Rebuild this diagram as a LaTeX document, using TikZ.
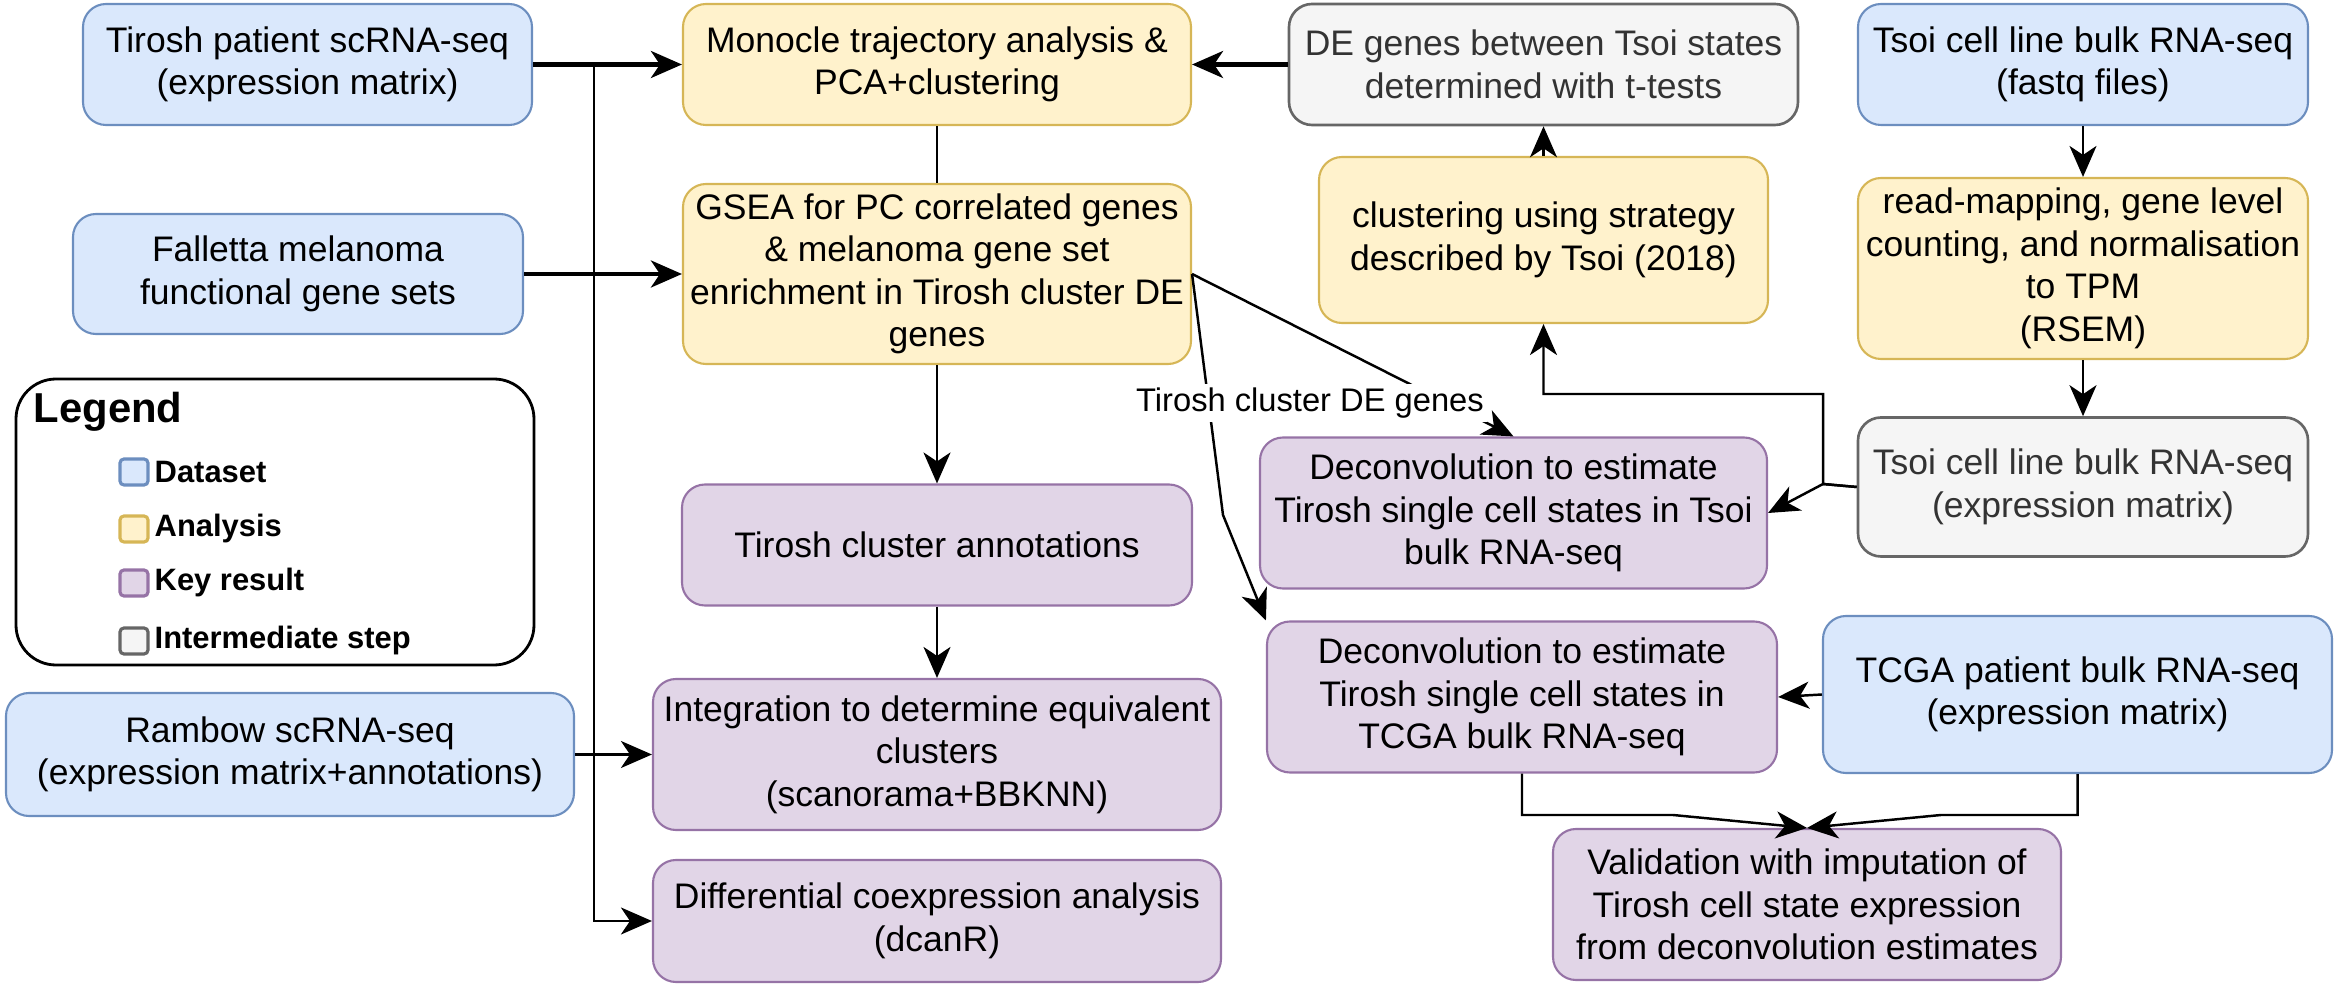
\documentclass[tikz,border=0pt]{standalone}
\usepackage{fontspec}
\setmainfont{Liberation Sans}
\usetikzlibrary{positioning,arrows.meta}

\definecolor{datafill}{HTML}{DAE8FC}
\definecolor{datadraw}{HTML}{6C8EBF}
\definecolor{anafill}{HTML}{FFF2CC}
\definecolor{anadraw}{HTML}{D6B656}
\definecolor{keyfill}{HTML}{E1D5E7}
\definecolor{keydraw}{HTML}{9673A6}
\definecolor{intfill}{HTML}{F5F5F5}
\definecolor{intdraw}{HTML}{666666}
\definecolor{inttext}{HTML}{333333}

\begin{document}
\begin{tikzpicture}[on grid,node distance=2cm,
	box/.style={draw,rounded corners=0.23cm,line width=0.6pt,align=center,inner sep=0pt,
		font=\fontsize{10.1}{12.1}\selectfont},
	dataset/.style={box,fill=datafill,draw=datadraw},
	analysis/.style={box,fill=anafill,draw=anadraw},
	keyres/.style={box,fill=keyfill,draw=keydraw},
	interm/.style={box,fill=intfill,draw=intdraw,text=inttext,line width=0.75pt},
	arr/.style={-{Stealth[length=0.31cm,width=0.27cm,inset=0.09cm]},line width=0.7pt},
	bold arr/.style={arr,line width=1.15pt},
	lbl/.style={fill=white,inner sep=1pt,font=\fontsize{9.3}{11}\selectfont},
	swatch/.style={draw,rounded corners=0.04cm,line width=0.9pt,minimum width=0.28cm,
		minimum height=0.26cm,inner sep=0pt},
	legitem/.style={anchor=west,inner sep=0pt,font=\bfseries\fontsize{8.8}{10}\selectfont}]
	\useasboundingbox (0,0) rectangle (23.38,-9.91);

	\node[dataset,minimum width=4.49cm,minimum height=1.21cm] (tirosh) at (3.075,-0.645)
		{Tirosh patient scRNA-seq\\(expression matrix)};
	\node[analysis,minimum width=5.08cm,minimum height=1.21cm] (monocle) [right=6.295cm of tirosh]
		{Monocle trajectory analysis \&\\PCA+clustering};
	\node[interm,minimum width=5.09cm,minimum height=1.21cm] (degenes) [right=6.065cm of monocle]
		{DE genes between Tsoi states\\determined with t-tests};
	\node[dataset,minimum width=4.50cm,minimum height=1.21cm] (fastq) [right=5.395cm of degenes]
		{Tsoi cell line bulk RNA-seq\\(fastq files)};
	\node[analysis,minimum width=4.50cm,minimum height=1.81cm] (readmap) [below=2.04cm of fastq]
		{read-mapping, gene level\\counting, and normalisation\\to TPM\\(RSEM)};
	\node[interm,minimum width=4.50cm,minimum height=1.39cm] (tsoiexpr) [below=2.185cm of readmap]
		{Tsoi cell line bulk RNA-seq\\(expression matrix)};
	\node[dataset,minimum width=5.09cm,minimum height=1.57cm] (tcga) [below left=2.075cm and 0.055cm of tsoiexpr]
		{TCGA patient bulk RNA-seq\\(expression matrix)};

	\node[analysis,minimum width=5.08cm,minimum height=1.80cm] (gsea) [below=2.095cm of monocle]
		{GSEA for PC correlated genes\\\& melanoma gene set\\enrichment in Tirosh cluster DE\\genes};
	\node[keyres,minimum width=5.10cm,minimum height=1.21cm] (annot) [below=2.71cm of gsea]
		{Tirosh cluster annotations};
	\node[keyres,minimum width=5.68cm,minimum height=1.51cm] (integ) [below=2.095cm of annot]
		{Integration to determine equivalent\\clusters\\(scanorama+BBKNN)};
	\node[keyres,minimum width=5.68cm,minimum height=1.22cm] (diffco) [below=1.665cm of integ]
		{Differential coexpression analysis\\(dcanR)};
	\node[dataset,minimum width=4.50cm,minimum height=1.20cm] (falletta) [left=6.39cm of gsea]
		{Falletta melanoma\\functional gene sets};
	\node[dataset,minimum width=5.68cm,minimum height=1.23cm] (rambow) [left=6.47cm of integ]
		{Rambow scRNA-seq\\(expression matrix+annotations)};

	\node[analysis,minimum width=4.49cm,minimum height=1.66cm] (clust) [below=1.755cm of degenes]
		{clustering using strategy\\described by Tsoi (2018)};
	\node[keyres,minimum width=5.07cm,minimum height=1.51cm] (deconvtsoi) at (15.135,-5.13)
		{Deconvolution to estimate\\Tirosh single cell states in Tsoi\\bulk RNA-seq};
	\node[keyres,minimum width=5.10cm,minimum height=1.51cm] (deconvtcga) [below right=1.84cm and 0.085cm of deconvtsoi]
		{Deconvolution to estimate\\Tirosh single cell states in\\TCGA bulk RNA-seq};
	\node[keyres,minimum width=5.08cm,minimum height=1.51cm] (valid) at (18.07,-9.045)
		{Validation with imputation of\\Tirosh cell state expression\\from deconvolution estimates};

	\node[draw,line width=0.8pt,rounded corners=0.4cm,minimum width=5.18cm,minimum height=2.86cm] (legend) at (2.75,-5.22) {};
	\node[anchor=west,inner sep=0pt,font=\bfseries\fontsize{11.9}{14}\selectfont] (legtitle) at (0.33,-4.12) {Legend};
	\node[swatch,fill=datafill,draw=datadraw] (swdata) at (1.34,-4.72) {};
	\node[swatch,fill=anafill,draw=anadraw] (swana) at (1.34,-5.29) {};
	\node[swatch,fill=keyfill,draw=keydraw] (swkey) at (1.34,-5.83) {};
	\node[swatch,fill=intfill,draw=intdraw] (swint) at (1.34,-6.41) {};
	\node[legitem] (lgdata) at (1.54,-4.72) {Dataset};
	\node[legitem] (lgana) at (1.54,-5.29) {Analysis};
	\node[legitem] (lgkey) at (1.54,-5.83) {Key result};
	\node[legitem] (lgint) at (1.54,-6.41) {Intermediate step};

	\coordinate (fork) at ([xshift=0.61cm]tirosh.east);
	\coordinate (bend) at (18.23,-4.84);
	\coordinate (elbow) at (18.23,-3.94);
	\coordinate (kink) at (12.23,-5.15);
	\coordinate (joinL) at (16.73,-8.15);
	\coordinate (joinR) at (19.41,-8.15);

	\draw[arr] (fork) |- (diffco.west);
	\draw[bold arr] (tirosh.east) -- (monocle.west);
	\draw[bold arr] (falletta.east) -- (gsea.west);
	\draw[arr] (rambow.east) -- (integ.west);
	\draw[line width=0.6pt] (monocle.south) -- (gsea.north);
	\draw[arr] (gsea.south) -- (annot.north);
	\draw[arr] (annot.south) -- (integ.north);
	\draw[bold arr] (degenes.west) -- (monocle.east);
	\draw[arr] (clust.north) -- (degenes.south);
	\draw[arr] (fastq.south) -- (readmap.north);
	\draw[arr] (readmap.south) -- (tsoiexpr.north);
	\draw[arr] (tsoiexpr.west) -- (bend) -- (elbow) -| (clust.south);
	\draw[arr] (tsoiexpr.west) -- (bend) -- (deconvtsoi.east);
	\draw[arr] (tcga.west) -- (deconvtcga.east);
	\draw[arr] (deconvtcga.south) |- (joinL) -- (valid.north);
	\draw[arr] (tcga.south) |- (joinR) -- (valid.north);
	\draw[arr] (gsea.east) -- (kink) -- (deconvtcga.north west);
	\draw[arr] (gsea.east) -- (deconvtsoi.north);
	\node[lbl] (delbl) at (13.10,-4.03) {Tirosh cluster DE genes};
\end{tikzpicture}
\end{document}
